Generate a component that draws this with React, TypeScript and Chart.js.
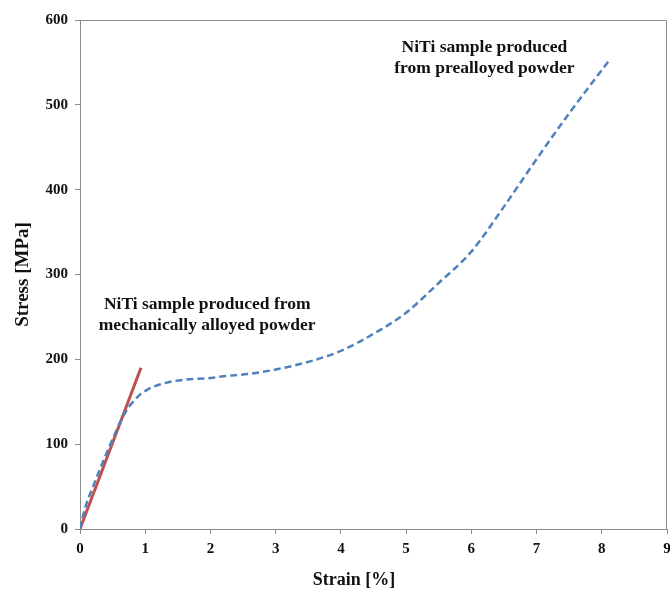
import React, { useEffect, useRef } from "react";
import { Chart, registerables } from "chart.js";

Chart.register(...registerables);

const prealloyedStrain = [0, 0.08, 0.2, 0.45, 0.7, 0.9, 1.05, 1.3, 1.6, 2.0, 2.2, 2.6, 3.0, 3.5, 4.0, 4.5, 5.0, 5.5, 6.0, 6.5, 7.0, 7.5, 8.1];
const prealloyedStress = [0, 25, 50, 97, 138, 157, 165, 172, 176, 178, 180, 183, 188, 197, 210, 230, 255, 290, 327, 380, 436, 490, 551];

const mechStrain = [0, 0.935];
const mechStress = [0, 190];

const xTicks = [0, 1, 2, 3, 4, 5, 6, 7, 8, 9];
const yTicks = [0, 100, 200, 300, 400, 500, 600];

const xTitle = "Strain [%]";
const yTitle = "Stress [MPa]";

const labelPrealloyed = ["NiTi sample produced", "from prealloyed powder"];
const labelPrealloyedAt = [6.2, 568];
const labelMech = ["NiTi sample produced from", "mechanically alloyed powder"];
const labelMechAt = [1.95, 265];

const FONT = "'Liberation Serif', 'Times New Roman', serif";

const framePlugin = {
  id: "frame",
  afterDraw(chart: any) {
    const { ctx, chartArea, scales } = chart;
    ctx.save();
    ctx.strokeStyle = "#8c8c8c";
    ctx.lineWidth = 1;
    ctx.beginPath();
    ctx.moveTo(chartArea.left, chartArea.top + 0.5);
    ctx.lineTo(chartArea.right - 0.5, chartArea.top + 0.5);
    ctx.lineTo(chartArea.right - 0.5, chartArea.bottom);
    ctx.stroke();

    ctx.fillStyle = "#111";
    ctx.font = `bold 17.5px ${FONT}`;
    ctx.textAlign = "center";
    ctx.textBaseline = "middle";
    const draw = (lines: string[], at: number[]) => {
      const x = scales.x.getPixelForValue(at[0]);
      const y = scales.y.getPixelForValue(at[1]);
      lines.forEach((l, i) => ctx.fillText(l, x, y + i * 21));
    };
    draw(labelPrealloyed, labelPrealloyedAt);
    draw(labelMech, labelMechAt);

    ctx.font = `bold 18px ${FONT}`;
    ctx.fillText(xTitle, scales.x.getPixelForValue(4.2), chartArea.bottom + 51);
    ctx.restore();
  },
};

export default function App() {
  const ref = useRef<HTMLCanvasElement>(null);
  useEffect(() => {
    if (!ref.current) return;
    const chart = new Chart(ref.current, {
      type: "scatter",
      data: {
        datasets: [
          {
            label: "prealloyed",
            data: prealloyedStrain.map((x, i) => ({ x, y: prealloyedStress[i] })),
            showLine: true,
            borderColor: "#4f81bd",
            borderWidth: 2.5,
            borderDash: [7, 4],
            pointRadius: 0,
            cubicInterpolationMode: "monotone",
            fill: false,
          },
          {
            label: "mechanically alloyed",
            data: mechStrain.map((x, i) => ({ x, y: mechStress[i] })),
            showLine: true,
            borderColor: "#c0504d",
            borderWidth: 3,
            pointRadius: 0,
            fill: false,
          },
        ],
      },
      options: {
        animation: false,
        responsive: false,
        maintainAspectRatio: false,
        layout: { padding: { top: 20, right: 3, left: 0, bottom: 0 } },
        plugins: { legend: { display: false }, tooltip: { enabled: false } },
        scales: {
          x: {
            type: "linear",
            min: 0,
            max: 9,
            afterBuildTicks: (s: any) => {
              s.ticks = xTicks.map((v) => ({ value: v }));
            },
            afterFit: (s: any) => {
              s.height = 68;
              s.paddingRight = 0;
              s.paddingLeft = 0;
            },
            border: { color: "#8c8c8c", width: 1 },
            grid: { drawOnChartArea: false, drawTicks: true, tickLength: 5, color: "#8c8c8c" },
            ticks: { color: "#111", font: { family: FONT, size: 15, weight: "bold" }, padding: 6, maxRotation: 0 },
          },
          y: {
            type: "linear",
            min: 0,
            max: 600,
            afterBuildTicks: (s: any) => {
              s.ticks = yTicks.map((v) => ({ value: v }));
            },
            afterFit: (s: any) => {
              s.width = 80;
              s.paddingTop = 0;
              s.paddingBottom = 0;
            },
            border: { color: "#8c8c8c", width: 1 },
            grid: { drawOnChartArea: false, drawTicks: true, tickLength: 5, color: "#8c8c8c" },
            ticks: { color: "#111", font: { family: FONT, size: 15, weight: "bold" }, padding: 7 },
            title: {
              display: true,
              text: yTitle,
              color: "#111",
              font: { family: FONT, size: 19, weight: "bold" },
              padding: { top: 12, bottom: 0 },
            },
          },
        },
      },
      plugins: [framePlugin],
    } as any);
    return () => chart.destroy();
  }, []);
  return (
    <div style={{ position: "absolute", left: 0, top: 0, width: 670, height: 597, background: "#fff" }}>
      <canvas ref={ref} width={670} height={597} style={{ width: 670, height: 597 }} />
    </div>
  );
}
